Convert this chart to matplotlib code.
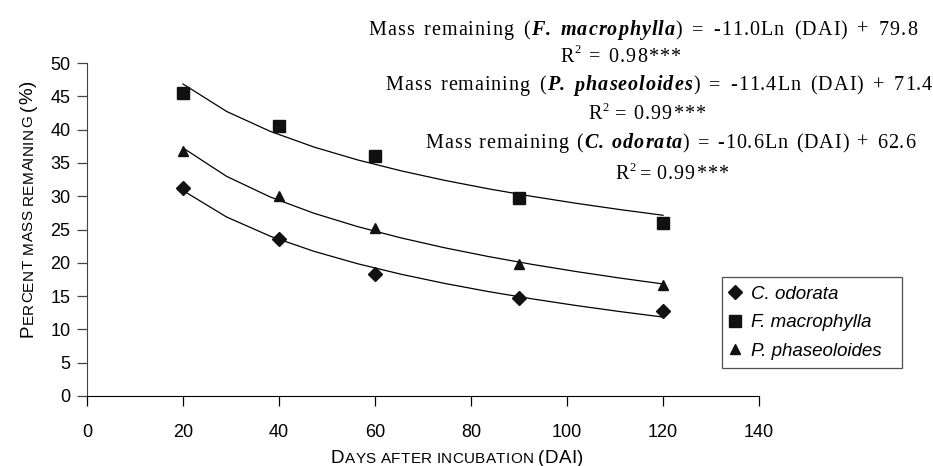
import matplotlib
matplotlib.use("Agg")
import matplotlib.pyplot as plt
import numpy as np
from matplotlib import font_manager
from matplotlib.ft2font import FT2Font

plt.rcParams["font.family"] = "Liberation Sans"

# days after incubation
days = [20, 40, 60, 90, 120]

# percent mass remaining per species
c_odorata = [31.3, 23.5, 18.3, 14.7, 12.8]
f_macrophylla = [45.5, 40.5, 36.0, 29.7, 26.0]
p_phaseoloides = [36.8, 30.0, 25.3, 19.8, 16.7]

# log fits: mass = slope * ln(DAI) + intercept, with R^2
fit_c = (-10.6, 62.6, "0.99")
fit_f = (-11.0, 79.8, "0.98")
fit_p = (-11.4, 71.4, "0.99")

species = ["C. odorata", "F. macrophylla", "P. phaseoloides"]
markers = ["D", "s", "^"]
sizes = [7.5, 8, 7.5]

W, H = 933, 466
fig = plt.figure(figsize=(W / 100, H / 100), dpi=100)
ax = fig.add_axes([87 / W, 1 - 396 / H, (759 - 87) / W, (396 - 63) / H])

series = [c_odorata, f_macrophylla, p_phaseoloides]
fits = [fit_c, fit_f, fit_p]
xfit = np.linspace(20, 120, 12)
for name, vals, (a, b, _), m, ms in zip(species, series, fits, markers, sizes):
    ax.plot(xfit, a * np.log(xfit) + b, color="black", lw=0.9, label="_nolegend_")
    ax.plot(days, vals, linestyle="none", marker=m, ms=ms, color="#111111", label=name)

ax.set_xlim(0, 140)
ax.set_ylim(0, 50)
ax.set_xticks(range(0, 141, 20))
ax.set_yticks(range(0, 51, 5))
for s in ["top", "right"]:
    ax.spines[s].set_visible(False)
ax.spines["left"].set_color("#444444")
ax.spines["bottom"].set_color("black")
ax.tick_params(axis="y", length=7, width=0.9, color="#444444", pad=5, labelsize=13)
ax.tick_params(axis="x", length=7, width=0.9, color="black", pad=13, labelsize=13)

leg = ax.legend(loc="lower left", bbox_to_anchor=(722 / W, 1 - 368 / H, 180 / W, 90 / H),
                bbox_transform=fig.transFigure, mode="expand", borderaxespad=0,
                frameon=True, fancybox=False, edgecolor="#222222", handlelength=0.5,
                handletextpad=0.6, labelspacing=0.6, borderpad=0.45,
                prop={"family": "Liberation Sans", "style": "italic", "size": 13.5})
leg.get_frame().set_linewidth(0.9)

renderer = fig.canvas.get_renderer()


def put(text, x, y, **kw):
    # text at a pixel position (y from the bottom), returns its bounding box
    t = fig.text(x, y, text, transform=None, ha="left", va="baseline",
                 rotation_mode="anchor", **kw)
    return t.get_window_extent(renderer)


def small_caps(pieces, x, y, rotation=0, track=0.0):
    # pieces: (text, fontsize); letters set one by one with a little tracking
    for text, size in pieces:
        for ch in text:
            if ch == " ":
                step = 0.3 * size * 100 / 72
            else:
                bb = put(ch, x, y, fontsize=size, rotation=rotation,
                         family="Liberation Sans")
                step = (bb.height if rotation else bb.width) + track
            if rotation:
                y += step
            else:
                x += step


# serif styles used in the fitted equations
STYLES = {
    "n": dict(family="Liberation Serif", weight="normal", style="normal"),
    "bi": dict(family="Liberation Serif", weight="bold", style="italic"),
    "sup": dict(family="Liberation Serif", weight="normal", style="normal"),
}
_fonts = {}


def advances(text, style, size):
    # horizontal advance in pixels for each character
    key = (style, size)
    if key not in _fonts:
        path = font_manager.findfont(font_manager.FontProperties(**STYLES[style]))
        font = FT2Font(path)
        font.set_size(size, 100)
        _fonts[key] = font
    font = _fonts[key]
    return [font.load_char(ord(ch)).linearHoriAdvance / 65536 for ch in text]


def run_size(style, size):
    return size * 0.62 if style == "sup" else size


def word_width(word, size, track):
    n = sum(len(t) for t, _ in word)
    adv = sum(sum(advances(t, st, run_size(st, size))) for t, st in word)
    return adv + track * (n - 1)


def justified(words, left, right, y_top, size, track):
    # words: lists of (text, style) runs, spread evenly between left and right
    widths = [word_width(w, size, track) for w in words]
    gap = (right - left - sum(widths)) / (len(words) - 1)
    x = left
    for word, w in zip(words, widths):
        pen = x
        for text, st in word:
            rs = run_size(st, size)
            y = H - y_top + (0.42 * size * 100 / 72 if st == "sup" else 0)
            props = STYLES[st]
            for ch, adv in zip(text, advances(text, st, rs)):
                fig.text(pen, y, ch, transform=None, ha="left", va="baseline",
                         fontsize=rs, family=props["family"], fontweight=props["weight"],
                         style=props["style"])
                pen += adv + track
        x += w + gap


big, small = 13.5, 11
small_caps([("D", big), ("AYS", small), (" ", small), ("AFTER", small), (" ", small),
            ("INCUBATION", small), (" ", small), ("(DAI)", big)], 331, 3, track=0.3)
small_caps([("P", big), ("ERCENT", small), (" ", small), ("MASS", small), (" ", small),
            ("REMAINING", small), (" ", small), ("(%)", big)], 32.5, H - 337,
           rotation=90, track=0.4)


def equation(name, fit):
    genus, epithet = name.split()
    a, b, _ = fit
    return [[("Mass", "n")], [("remaining", "n")], [("(", "n"), (genus, "bi")],
            [(epithet, "bi"), (")", "n")], [("=", "n")],
            [(f"{a:.1f}Ln", "n")], [("(DAI)", "n")], [("+", "n")], [(f"{b:.1f}", "n")]]


def r2_line(fit):
    return [[("R", "n"), ("2", "sup")], [("=", "n")], [(f"{fit[2]}***", "n")]]


eq_size = 14.5
# (species, fit, equation span, equation baseline, R^2 span, R^2 baseline)
layout = [
    ("F. macrophylla", fit_f, (368, 917), 35, (560, 680), 61.5),
    ("P. phaseoloides", fit_p, (385, 932), 90.5, (588, 705), 119),
    ("C. odorata", fit_c, (425, 915), 148, (615, 728), 179),
]
for name, fit, span, base, r2span, r2base in layout:
    justified(equation(name, fit), span[0], span[1], base, eq_size, 1.0)
    justified(r2_line(fit), r2span[0], r2span[1], r2base, eq_size, 1.0)

fig.savefig("out.png", dpi=100)
